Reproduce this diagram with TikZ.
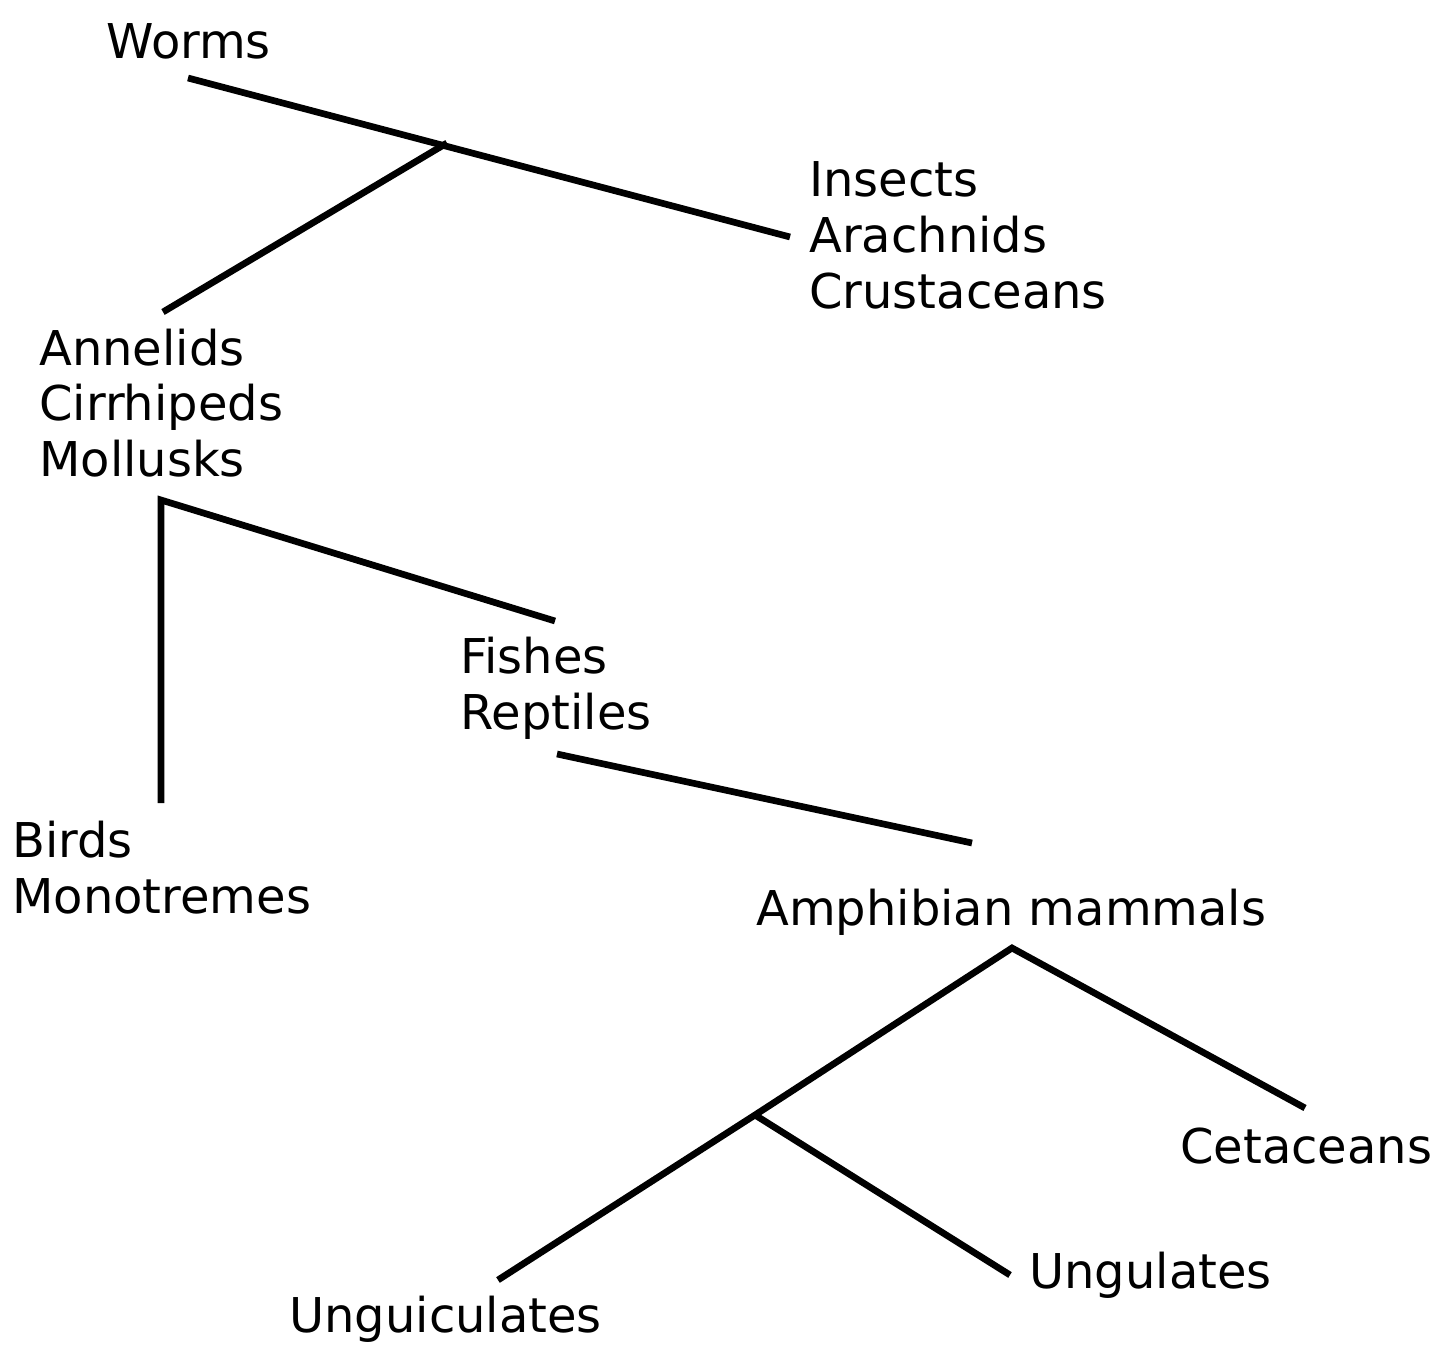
\documentclass[tikz,border=0pt]{standalone}
\usepackage{fontspec}
\setmainfont{DejaVu Sans}

\begin{document}
\begin{tikzpicture}[x=0.02cm, y=-0.02cm,
  branch/.style={line width=3.8pt},
  taxon/.style={anchor=west, inner sep=0pt, align=left, font=\fontsize{27.3}{31.8}\selectfont},
]
\useasboundingbox (0,0) rectangle (1437,1351);

% groups
\node[taxon] (worms)      at (106,41)   {Worms};
\node[taxon] (insects)    at (809,235)  {Insects\\Arachnids\\Crustaceans};
\node[taxon] (annelids)   at (39,403)   {Annelids\\Cirrhipeds\\Mollusks};
\node[taxon] (fishes)     at (460,688)  {Fishes\\Reptiles};
\node[taxon] (birds)      at (12,868)   {Birds\\Monotremes};
\node[taxon] (amphibian)  at (756,912)  {Amphibian mammals};
\node[taxon] (cetaceans)  at (1180,1146) {Cetaceans};
\node[taxon] (ungulates)  at (1029,1275) {Ungulates};
\node[taxon] (unguic)     at (289,1319) {Unguiculates};

% line ends and branch points
\coordinate (wormsend)     at (188,78);
\coordinate (insectsend)   at (790,237);
\coordinate (split)        at (447,143);
\coordinate (annelidsend)  at (163,312);
\coordinate (mollusksend)  at (161,500);
\coordinate (birdsend)     at (161,803);
\coordinate (fishesend)    at (555,621);
\coordinate (reptilesend)  at (557,754);
\coordinate (amphibend)    at (972,843);
\coordinate (mammalsend)   at (1012,948);
\coordinate (cetend)       at (1305,1108);
\coordinate (clawsplit)    at (755,1115);
\coordinate (unguicend)    at (498,1280);
\coordinate (ungulend)     at (1010,1275);

% branches
\draw[branch] (wormsend) -- (insectsend);
\draw[branch] (split) -- (annelidsend);
\draw[branch] (birdsend) -- (mollusksend) -- (fishesend);
\draw[branch] (reptilesend) -- (amphibend);
\draw[branch] (unguicend) -- (clawsplit) -- (mammalsend) -- (cetend);
\draw[branch] (clawsplit) -- (ungulend);
\end{tikzpicture}
\end{document}
